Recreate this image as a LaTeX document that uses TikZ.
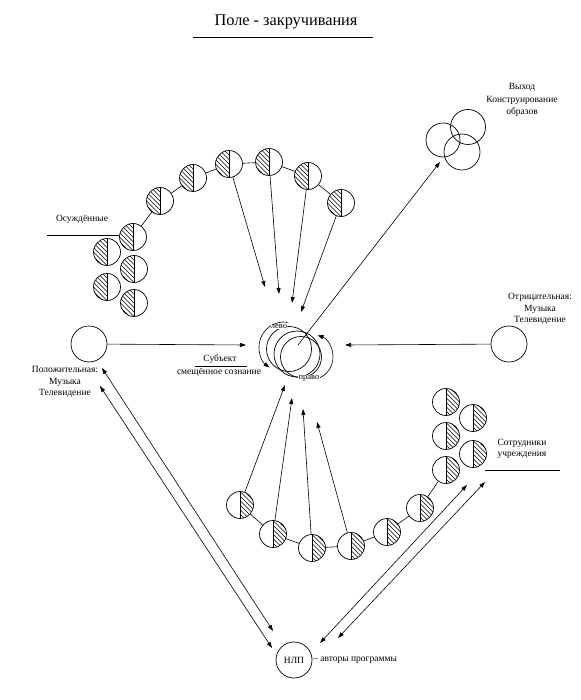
\documentclass[tikz,border=0pt]{standalone}
\usepackage{fontspec}
\setmainfont{Liberation Serif}
\usetikzlibrary{arrows.meta,calc}
\begin{document}
\begin{tikzpicture}[x=1pt,y=-1pt,
  every node/.style={font=\fontsize{9.5}{11.5}\selectfont, inner sep=0pt},
  ball/.style={circle, draw, line width=0.7pt, minimum size=27pt, inner sep=0pt},
  hatL/.style={ball, path picture={
    \coordinate (ppc) at (path picture bounding box.center);
    \begin{scope}
      \clip (path picture bounding box.south west) rectangle (path picture bounding box.north);
      \foreach \k in {-8,...,8}{
        \draw[line width=0.5pt] ($(ppc)+(\k*4.5pt-18pt,18pt)$) -- ++(36pt,-36pt);
      }
    \end{scope}
    \draw[line width=0.6pt] (path picture bounding box.north) -- (path picture bounding box.south);
  }},
  hatR/.style={ball, path picture={
    \coordinate (ppc) at (path picture bounding box.center);
    \begin{scope}
      \clip (path picture bounding box.north) rectangle (path picture bounding box.south east);
      \foreach \k in {-8,...,8}{
        \draw[line width=0.5pt] ($(ppc)+(\k*4.5pt-18pt,18pt)$) -- ++(36pt,-36pt);
      }
    \end{scope}
    \draw[line width=0.6pt] (path picture bounding box.north) -- (path picture bounding box.south);
  }},
  plain/.style={circle, draw, line width=0.7pt, inner sep=0pt},
  link/.style={line width=0.6pt},
  arr/.style={line width=0.6pt, -{Triangle[length=6pt,width=4pt]}},
  darr/.style={line width=0.6pt, {Triangle[length=6pt,width=4pt]}-{Triangle[length=6pt,width=4pt]}},
  lbl/.style={align=center},
  small/.style={font=\fontsize{8.5}{10}\selectfont, fill=white, inner sep=0.3pt},
]
\useasboundingbox (0,0) rectangle (580,700);

% title
\node[font=\fontsize{16.3}{19}\selectfont] (title) at (286,22) {Поле - закручивания};
\coordinate (tl1) at (193,37);
\coordinate (tl2) at (373,37);
\draw[line width=0.8pt] (tl1) -- (tl2);

% top chain
\node[hatL] (t1) at (133,237) {};
\node[hatL] (t2) at (160,201) {};
\node[hatL] (t3) at (193,178) {};
\node[hatL] (t4) at (229,164) {};
\node[hatL] (t5) at (269,162) {};
\node[hatL] (t6) at (308,176) {};
\node[hatL] (t7) at (341,203) {};
\node[hatL] (ta) at (107,252) {};
\node[hatL] (tb) at (134,269) {};
\node[hatL] (tc) at (107,287) {};
\node[hatL] (td) at (134,303) {};
\draw[link] (t1) -- (t2);
\draw[link] (t2) -- (t3);
\draw[link] (t3) -- (t4);
\draw[link] (t4) -- (t5);
\draw[link] (t5) -- (t6);
\draw[link] (t6) -- (t7);

\node (osu) at (82,219) {Осуждённые};
\coordinate (osl) at (47,235);
\draw[link] (osl) -- (osl -| t1.west);

% arrows to centre from top
\coordinate (ta1) at (265,287);
\coordinate (ta2) at (279,294);
\coordinate (ta3) at (292,303);
\coordinate (ta4) at (301,312);
\draw[arr] (t4) -- (ta1);
\draw[arr] (t5) -- (ta2);
\draw[arr] (t6) -- (ta3);
\draw[arr] (t7) -- (ta4);

% centre
\node[plain, minimum size=45pt] (c1) at (289,349) {};
\node[plain, minimum size=46pt] (c2) at (297,354) {};
\node[plain, minimum size=41pt] (c3) at (301,357) {};
\coordinate (lc) at (284,347);
\coordinate (rc) at (310,357);
\draw[arr] ($(lc)+(80:25pt)$) arc[start angle=80, end angle=235, radius=25pt];
\draw[arr] ($(rc)+(-97:23pt)$) arc[start angle=-97, end angle=71, radius=23pt];
\node[small] (levo) at (279,327) {лево};
\node[small] (pravo) at (309,378) {право};
\coordinate (cc) at (298,345);
\coordinate (vtip) at (440,162);
\draw[arr] (cc) -- (vtip);

% output
\node[plain, minimum size=34pt] (v1) at (443,140) {};
\node[plain, minimum size=35pt] (v2) at (468,127) {};
\node[plain, minimum size=36pt] (v3) at (462,152) {};
\node[lbl, font=\fontsize{9.5}{12.5}\selectfont] (vyh) at (522,100) {Выход\\Конструирование\\образов};

% left / right
\node[plain, minimum size=36pt] (pos) at (89,344) {};
\node[plain, minimum size=36pt] (neg) at (509,344) {};
\coordinate (ptip) at (246,345);
\coordinate (ntip) at (345,345);
\draw[arr] (pos) -- (ptip);
\draw[arr] (neg) -- (ntip);
\node[lbl] (postxt) at (65,382) {Положительная:\\Музыка\\Телевидение};
\node[lbl] (negtxt) at (540,309) {Отрицательная:\\Музыка\\Телевидение};

% subject
\node (sub) at (220,359) {Субъект};
\node (sme) at (219,372) {смещённое сознание};
\coordinate (sl1) at (195,366);
\coordinate (sl2) at (247,366);
\draw[link] (sl1) -- (sl2);

% bottom chain
\node[hatR] (b1) at (240,505) {};
\node[hatR] (b2) at (273,534) {};
\node[hatR] (b3) at (312,548) {};
\node[hatR] (b4) at (351,546) {};
\node[hatR] (b5) at (387,532) {};
\node[hatR] (b6) at (420,508) {};
\node[hatR] (b7) at (446,470) {};
\node[hatR] (ba) at (446,402) {};
\node[hatR] (bb) at (473,418) {};
\node[hatR] (bc) at (446,436) {};
\node[hatR] (bd) at (473,454) {};
\draw[link] (b1) -- (b2);
\draw[link] (b2) -- (b3);
\draw[link] (b3) -- (b4);
\draw[link] (b4) -- (b5);
\draw[link] (b5) -- (b6);
\draw[link] (b6) -- (b7);

\coordinate (ba1) at (285,385);
\coordinate (ba2) at (292,398);
\coordinate (ba3) at (303,409);
\coordinate (ba4) at (317,422);
\draw[arr] (b1) -- (ba1);
\draw[arr] (b2) -- (ba2);
\draw[arr] (b3) -- (ba3);
\draw[arr] (b4) -- (ba4);

\node[lbl] (sotr) at (522,449) {Сотрудники\\учреждения};
\coordinate (so1) at (485,470);
\coordinate (so2) at (560,470);
\draw[link] (so1) -- (so2);

% NLP
\node[plain, minimum size=36pt] (nlp) at (294,660) {НЛП};
\node[anchor=west] (avt) at (313,660) {– авторы программы};

\coordinate (pA1) at (102,368);
\coordinate (pA2) at (273,631);
\coordinate (pB1) at (100,386);
\coordinate (pB2) at (272,648);
\draw[darr] (pA1) -- (pA2);
\draw[darr] (pB1) -- (pB2);
\coordinate (rC1) at (320,643);
\coordinate (rC2) at (467,485);
\coordinate (rD1) at (338,638);
\coordinate (rD2) at (485,482);
\draw[darr] (rC1) -- (rC2);
\draw[darr] (rD1) -- (rD2);
\end{tikzpicture}
\end{document}
